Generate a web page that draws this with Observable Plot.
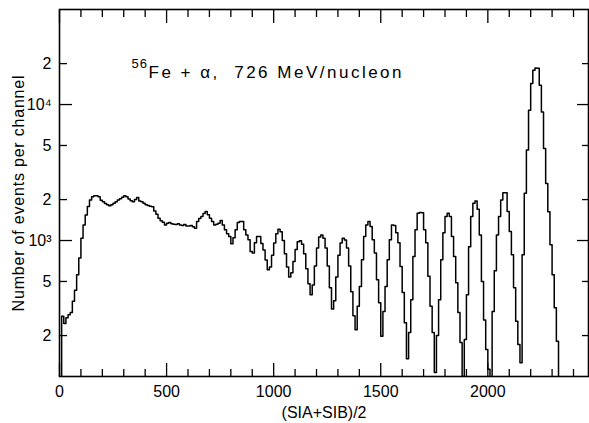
<!DOCTYPE html>
<html><head><meta charset="utf-8">
<script src="https://cdn.jsdelivr.net/npm/d3@7"></script>
<script src="https://cdn.jsdelivr.net/npm/@observablehq/plot@0.6"></script>
<style>body{margin:0;background:#fff}</style>
</head><body><div id="chart"></div>
<script>
const binWidth = 10;
const counts = [
  50, 277, 245, 270, 285, 295, 357, 430, 560, 743,
  1041, 1300, 1543, 1780, 1987, 2101, 2138, 2138, 2100, 1980,
  1931, 1870, 1830, 1805, 1830, 1880, 1930, 1987, 2030, 2080,
  2138, 2100, 2020, 1960, 1931, 2000, 2068, 1950, 1930, 1880,
  1830, 1810, 1790, 1775, 1650, 1560, 1460, 1400, 1360, 1300,
  1340, 1355, 1330, 1320, 1310, 1330, 1300, 1290, 1310, 1280,
  1280, 1290, 1260, 1233, 1378, 1450, 1499, 1580, 1632, 1550,
  1459, 1380, 1303, 1320, 1342, 1402, 1300, 1198, 1120, 1070,
  946, 1050, 1198, 1355, 1378, 1378, 1198, 1100, 1012, 830,
  809, 962, 1070, 1070, 950, 850, 720, 610, 640, 780,
  960, 1120, 1210, 1160, 1000, 800, 640, 540, 580, 700,
  860, 980, 995, 940, 800, 620, 480, 400, 470, 650,
  880, 1060, 1100, 1040, 880, 650, 450, 314, 360, 540,
  780, 960, 1040, 1010, 880, 650, 420, 280, 221, 328,
  460, 722, 1070, 1303, 1378, 1266, 1012, 809, 515, 348,
  198, 300, 460, 722, 1012, 1303, 1290, 1139, 962, 644,
  414, 249, 135, 211, 367, 763, 1198, 1588, 1604, 1600,
  1198, 962, 545, 328, 211, 107, 200, 367, 722, 1139,
  1499, 1588, 1500, 1070, 763, 490, 295, 178, 100, 187,
  400, 900, 1500, 1880, 1954, 1700, 1100, 500, 260, 158,
  113, 92, 300, 600, 1100, 1499, 1987, 2248, 2248, 1632,
  1164, 785, 450, 255, 172, 126, 785, 2230, 4630, 9080,
  14260, 17850, 18600, 18500, 13850, 8830, 4760, 2630, 1630, 930,
  560, 320, 182, 60
];
const xMajorTicks = [0, 500, 1000, 1500, 2000];
const xMinorTicks = [100, 200, 300, 400, 600, 700, 800, 900, 1100, 1200, 1300, 1400, 1600, 1700, 1800, 1900, 2100, 2200, 2300, 2400];
const yTickValues = [200, 500, 1000, 2000, 5000, 10000, 20000];
const yTickLabels = ["2", "5", "10³", "2", "5", "10⁴", "2"];
const yMajorTicks = [1000, 10000];
const yMinorTicks = [200, 500, 2000, 5000, 20000];
const titleSup = "56";
const titleMain = "Fe + α,\u00a0 726 MeV/nucleon";
const xLabel = "(SIA+SIB)/2";
const yLabel = "Number of events per channel";

const data = counts.map((c, i) => ({channel: i * binWidth, count: c}));
data.push({channel: counts.length * binWidth, count: counts[counts.length - 1]});
const yTicks = yTickValues.map((v, i) => ({value: v, label: yTickLabels[i]}));

const tk = {fill: "none", label: null, strokeWidth: 1.3};
const chart = Plot.plot({
  width: 589, height: 423,
  marginLeft: 59, marginRight: 1, marginTop: 9, marginBottom: 47,
  style: {fontFamily: "'Liberation Sans', Arial, sans-serif", fontSize: "16px", color: "black", background: "white"},
  x: {domain: [0, 2470]},
  y: {type: "log", domain: [100, 50000]},
  marks: [
    Plot.lineY(data, {x: "channel", y: "count", curve: "step-after", stroke: "black", strokeWidth: 1.5, clip: true}),
    Plot.frame({stroke: "black", strokeWidth: 1.6}),
    Plot.axisX(xMajorTicks, {...tk, anchor: "bottom", tickSize: 13, dy: -13}),
    Plot.axisX(xMinorTicks, {...tk, anchor: "bottom", tickSize: 7, dy: -7}),
    Plot.axisX(xMajorTicks, {...tk, anchor: "top", tickSize: 13, dy: 13}),
    Plot.axisX(xMinorTicks, {...tk, anchor: "top", tickSize: 7, dy: 7}),
    Plot.axisY(yMajorTicks, {...tk, anchor: "left", tickSize: 13, dx: 13}),
    Plot.axisY(yMinorTicks, {...tk, anchor: "left", tickSize: 8, dx: 8}),
    Plot.axisY(yMajorTicks, {...tk, anchor: "right", tickSize: 12, dx: -12}),
    Plot.axisY(yMinorTicks, {...tk, anchor: "right", tickSize: 7, dx: -7}),
    Plot.axisX(xMajorTicks, {anchor: "bottom", stroke: "none", tickSize: 0, tickPadding: 9, tickFormat: d => String(d), label: null, fontSize: 16}),
    Plot.text(yTicks, {y: "value", text: "label", frameAnchor: "left", textAnchor: "end", dx: -8, fontSize: 16}),
    Plot.text([xLabel], {text: d => d, frameAnchor: "bottom", dy: 36, lineAnchor: "middle", fontSize: 16}),
    Plot.text([yLabel], {text: d => d, frameAnchor: "left", rotate: -90, dx: -41, lineAnchor: "middle", textAnchor: "middle", fontSize: 16}),
    Plot.text([titleSup], {text: d => d, frameAnchor: "top-left", dx: 72, dy: 54, textAnchor: "start", lineAnchor: "middle", fontSize: 13}),
    Plot.text([titleMain], {text: d => d, frameAnchor: "top-left", dx: 89, dy: 63.5, textAnchor: "start", lineAnchor: "middle", fontSize: 17})
  ]
});
const spacing = new Map([[titleMain, "2.5px"], [titleSup, "1px"], [yLabel, "0.8px"]]);
d3.select(chart).selectAll("text").each(function() {
  const s = spacing.get(this.textContent);
  if (s) this.style.letterSpacing = s;
});
document.getElementById("chart").append(chart);
</script>
</body></html>
